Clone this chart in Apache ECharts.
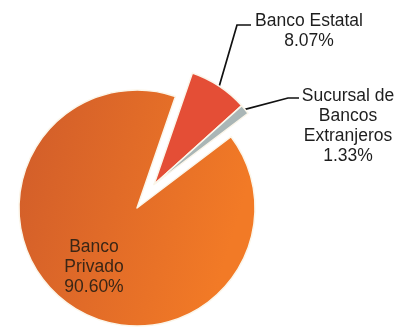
<!DOCTYPE html>
<html>
<head>
<meta charset="utf-8">
<script src="https://cdn.jsdelivr.net/npm/echarts@6/dist/echarts.min.js"></script>
<style>
  html, body { margin: 0; padding: 0; background: #ffffff; }
  #chart { width: 396px; height: 333px; }
</style>
</head>
<body>
<div id="chart"></div>
<script>
// Market share of banking assets by type of institution (%)
const categories = ['Banco Estatal', 'Sucursal de\nBancos\nExtranjeros', 'Banco\nPrivado'];
const shares = [8.07, 1.33, 90.60];
const exploded = [true, true, false];
const sliceColors = ['#e44e36', '#aab6b6', null];

// Layout
const baseCenter = [137, 208];
const radius = 118;
const startAngle = 71;          // degrees, counter-clockwise from 3 o'clock
const explodeDistance = 29;

// Label anchors (center x, middle y) and leader-line elbows/ends
const labelAnchors = [[309, 31], [348, 126], [94, 267]];
const leaderBends = [[[237, 25], [251, 25]], [[288, 98], [299, 98]], null];

const total = shares.reduce((a, b) => a + b, 0);
const explodedShare = shares.filter((v, i) => exploded[i]).reduce((a, b) => a + b, 0);
// mid-angle of the pulled-out group, clockwise from 12 o'clock
const groupMid = (90 - startAngle) + (explodedShare / total) * 180;
const rad = groupMid * Math.PI / 180;
const explodedCenter = [
  baseCenter[0] + explodeDistance * Math.sin(rad),
  baseCenter[1] - explodeDistance * Math.cos(rad)
];

const orangeFill = new echarts.graphic.LinearGradient(0, 0, 1, 0.3, [
  { offset: 0, color: '#d05c2a' },
  { offset: 1, color: '#f27a26' }
]);

const labelFont = {
  fontFamily: '"Liberation Sans", Arial, sans-serif',
  fontSize: 17.5,
  lineHeight: 20,
  align: 'center'
};

function buildData(showExploded) {
  return categories.map((name, i) => {
    const visible = exploded[i] === showExploded;
    return {
      name: name,
      value: shares[i],
      itemStyle: visible
        ? { color: sliceColors[i] || orangeFill, borderColor: '#fbf6ea', borderWidth: 1.5 }
        : { color: 'rgba(0,0,0,0)', borderWidth: 0 },
      label: visible
        ? Object.assign({ show: true, color: exploded[i] ? '#1e1e1e' : '#3a2616' }, labelFont)
        : { show: false },
      labelLine: { show: visible && exploded[i], lineStyle: { color: '#111111', width: 1.7 } }
    };
  });
}

function layoutLabels(params) {
  const i = params.dataIndex;
  const anchor = labelAnchors[i];
  const out = { x: anchor[0], y: anchor[1], align: 'center', verticalAlign: 'middle' };
  if (leaderBends[i] && params.labelLinePoints) {
    out.labelLinePoints = [params.labelLinePoints[0], leaderBends[i][0], leaderBends[i][1]];
  }
  return out;
}

const common = {
  type: 'pie',
  radius: radius,
  startAngle: startAngle,
  clockwise: true,
  avoidLabelOverlap: false,
  silent: true,
  animation: false,
  emphasis: { disabled: true },
  label: {
    formatter: p => p.name + '\n' + p.value.toFixed(2) + '%'
  },
  labelLayout: layoutLabels
};

const chart = echarts.init(document.getElementById('chart'), null, { renderer: 'canvas' });
chart.setOption({
  backgroundColor: '#ffffff',
  animation: false,
  series: [
    Object.assign({}, common, {
      name: 'main',
      center: baseCenter,
      data: buildData(false),
      label: Object.assign({}, common.label, { position: 'inside' })
    }),
    Object.assign({}, common, {
      name: 'pulled',
      center: explodedCenter,
      data: buildData(true),
      label: Object.assign({}, common.label, { position: 'outside' }),
      labelLine: { show: true, length: 20, length2: 10 }
    })
  ]
});
</script>
</body>
</html>
